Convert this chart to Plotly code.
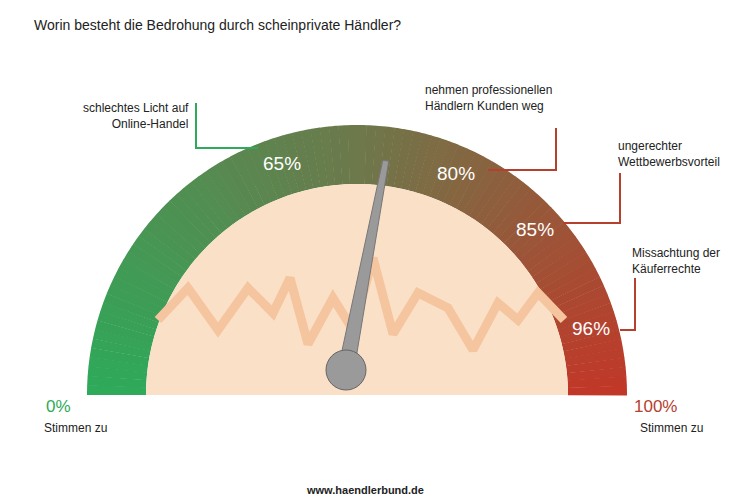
import numpy as np
import plotly.graph_objects as go

H = 498
labels = ["65%", "80%", "85%", "96%"]
label_angles = [108, 66, 43, 16]
texts = ["schlechtes Licht auf<br>Online-Handel", "nehmen professionellen<br>Händlern Kunden weg",
         "ungerechter<br>Wettbewerbsvorteil", "Missachtung der<br>Käuferrechte"]
zig_x = [150,180,210,240,265,282,300,325,345,365,385,410,440,465,490,510,530,556]
zig_y = [312,280,322,280,305,270,336,290,322,250,326,285,300,342,295,312,285,312]
needle_angle = 83

cx, cy, R, r = 349, 387, 270, 211
fig = go.Figure()
def Y(p): return H - np.asarray(p)

def col(t):
    stops = [(0, (46,170,90)), (0.5, (110,120,75)), (1, (195,55,40))]
    for (a, c1), (b, c2) in zip(stops, stops[1:]):
        if t <= b:
            f = (t-a)/(b-a)
            return "rgb(%d,%d,%d)" % tuple(int(c1[i]+(c2[i]-c1[i])*f) for i in range(3))
N = 90
for i in range(N):
    a0, a1 = np.pi*(1-i/N), np.pi*(1-(i+1.05)/N)
    th = np.linspace(a0, a1, 4)
    xs = list(cx+R*np.cos(th)) + list(cx+r*np.cos(th[::-1]))
    ys = list(cy-R*np.sin(th)) + list(cy-r*np.sin(th[::-1]))
    fig.add_trace(go.Scatter(x=xs, y=Y(ys), fill="toself", fillcolor=col(i/N), mode="none", hoverinfo="skip"))
th = np.linspace(0, np.pi, 100)
fig.add_trace(go.Scatter(x=cx+r*np.cos(th), y=Y(cy-r*np.sin(th)), fill="toself", fillcolor="#fbe0c8", mode="none"))
fig.add_trace(go.Scatter(x=zig_x, y=Y(zig_y), mode="lines", line=dict(color="#f5c59f", width=9)))

a = np.radians(needle_angle)
bx, by = 338, 362
tx, ty = cx+236*np.cos(a), cy-236*np.sin(a)
px, py = -np.sin(a), -np.cos(a)
fig.add_trace(go.Scatter(x=[bx+8*px, tx+3*px, tx-3*px, bx-8*px], y=Y([by+8*py, ty+3*py, ty-3*py, by-8*py]),
                         fill="toself", fillcolor="#9a9a9a", line=dict(color="#777", width=1), mode="lines"))
fig.add_trace(go.Scatter(x=[bx], y=Y([by]), mode="markers", marker=dict(size=40, color="#9a9a9a", line=dict(color="#666", width=1))))

fnt = "Liberation Sans"
for lab, ang in zip(labels, label_angles):
    t = np.radians(ang)
    fig.add_annotation(x=cx+243*np.cos(t), y=H-(cy-243*np.sin(t)), text=lab, showarrow=False,
                       font=dict(size=19, color="white", family=fnt))

lines = [([188,188,250],[95,140,140]), ([548,548,480],[120,162,162]), ([612,612,555],[165,215,215]), ([627,627,612],[270,322,322])]
lcol = ["#2eaa5a", "#b5402e", "#b5402e", "#b5402e"]
for (lx, ly), c in zip(lines, lcol):
    fig.add_trace(go.Scatter(x=lx, y=Y(ly), mode="lines", line=dict(color=c, width=2)))
tpos = [(183,108,"right"), (415,90,"left"), (608,146,"left"), (622,253,"left")]
for t, (x, y, al) in zip(texts, tpos):
    fig.add_annotation(x=x, y=H-y, text=t, showarrow=False, xanchor=al, align=al,
                       font=dict(size=12, color="#222", family=fnt))

fig.add_annotation(x=36, y=H-398, text="0%", showarrow=False, xanchor="left", font=dict(size=17, color="#2eaa5a", family=fnt))
fig.add_annotation(x=34, y=H-420, text="Stimmen zu", showarrow=False, xanchor="left", font=dict(size=12, color="#222", family=fnt))
fig.add_annotation(x=624, y=H-398, text="100%", showarrow=False, xanchor="left", font=dict(size=17, color="#b5402e", family=fnt))
fig.add_annotation(x=630, y=H-420, text="Stimmen zu", showarrow=False, xanchor="left", font=dict(size=12, color="#222", family=fnt))
fig.add_annotation(x=24, y=H-17, text="Worin besteht die Bedrohung durch scheinprivate Händler?", showarrow=False, xanchor="left",
                   font=dict(size=14, color="#222", family=fnt))
fig.add_annotation(x=357, y=H-482, text="<b>www.haendlerbund.de</b>", showarrow=False, font=dict(size=11, color="#222", family=fnt))

fig.update_layout(width=750, height=498, margin=dict(l=0, r=0, t=0, b=0), showlegend=False,
                  plot_bgcolor="white", paper_bgcolor="white",
                  xaxis=dict(range=[0, 750], visible=False, fixedrange=True),
                  yaxis=dict(range=[0, 498], visible=False, fixedrange=True))
fig.write_html("out.html")
